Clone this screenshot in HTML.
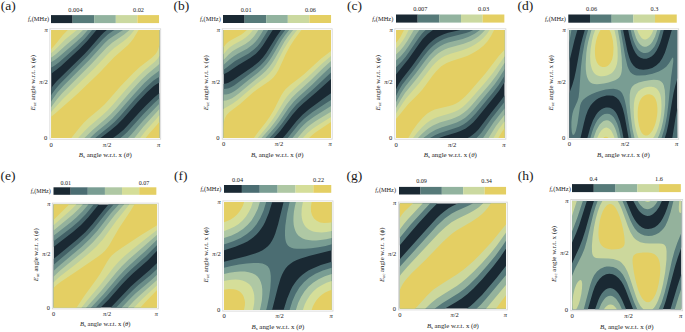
<!DOCTYPE html>
<html><head><meta charset="utf-8"><style>
html,body{margin:0;padding:0;background:#fff;}
svg{display:block;}
text{font-family:"Liberation Serif",serif;fill:#1a1a1a;}
</style></head><body>
<svg width="685" height="332" viewBox="0 0 685 332" xmlns="http://www.w3.org/2000/svg">
<rect width="685" height="332" fill="#fff"/>
<rect x="49.9" y="28.8" width="110.8" height="110.4" fill="none" stroke="#d4d4d4" stroke-width="0.8"/>
<clipPath id="cpa"><rect x="51.10" y="30.00" width="108.40" height="108.00"/></clipPath>
<g clip-path="url(#cpa)">
<rect x="51.10" y="30.00" width="108.40" height="108.00" fill="#1a2933"/>
<path fill-rule="evenodd" fill="#436267" d="M51.4 73.4 51.1 73.7 51.1 30.0 96.5 30.0 86.8 41.5 79.5 49.0 60.8 66.3 56.1 70.1 51.4 73.4ZM100.5 138.0 51.1 138.0 51.1 88.2 53.5 85.0 56.7 81.3 84.5 54.0 90.0 48.0 100.8 35.6 103.8 32.6 106.8 30.0 159.5 30.0 159.5 82.4 156.8 83.9 153.8 86.1 147.0 92.3 137.5 102.3 123.1 118.7 117.2 124.7 111.0 130.0 100.5 138.0ZM159.5 138.0 113.0 138.0 118.8 133.8 123.6 129.7 127.8 125.3 138.8 112.9 146.2 105.2 154.2 97.4 159.5 93.1 159.5 138.0Z"/>
<path fill-rule="evenodd" fill="#6a8d88" d="M51.4 67.4 51.1 67.6 51.1 30.0 92.1 30.0 84.5 39.0 77.1 46.3 59.4 61.9 55.1 65.2 51.4 67.4ZM95.1 138.0 51.1 138.0 51.1 95.4 51.4 94.8 54.8 89.9 59.1 84.7 87.5 56.1 102.5 39.4 107.8 34.5 113.1 30.8 114.5 30.0 159.5 30.0 159.5 76.7 156.5 78.4 153.2 80.8 146.2 87.2 134.5 99.6 119.8 116.5 114.5 121.9 109.1 126.7 95.1 138.0ZM159.5 138.0 120.5 138.0 123.8 135.3 127.1 132.2 143.5 114.1 154.0 103.3 159.5 98.3 159.5 138.0Z"/>
<path fill-rule="evenodd" fill="#94b29c" d="M51.4 62.1 51.1 62.3 51.1 30.0 87.8 30.0 82.1 36.4 76.1 42.1 58.4 57.3 54.8 60.0 51.4 62.1ZM89.8 138.0 51.1 138.0 51.1 101.7 52.8 99.1 57.4 92.6 63.8 85.6 89.5 59.7 104.5 43.2 108.8 39.3 113.5 35.9 123.1 30.0 159.5 30.0 159.5 70.6 151.5 76.4 144.3 83.0 134.2 93.9 118.2 112.3 112.1 118.7 107.1 123.2 95.8 132.6 90.0 138.0 89.8 138.0ZM159.5 138.0 127.9 138.0 131.5 134.2 143.1 120.7 159.5 103.5 159.5 138.0Z"/>
<path fill-rule="evenodd" fill="#bccfa0" d="M51.4 57.4 51.1 57.6 51.1 30.0 83.0 30.0 76.4 36.3 66.1 44.9 56.1 53.9 51.4 57.4ZM84.1 138.0 51.1 138.0 51.1 107.2 56.8 99.5 62.1 93.3 91.6 63.7 106.5 47.7 112.1 42.7 124.1 34.6 129.5 30.0 159.5 30.0 159.5 63.7 156.8 66.2 147.8 73.7 141.2 80.0 130.4 91.7 115.8 108.7 110.1 114.7 105.1 119.3 92.9 129.7 84.4 138.0 84.1 138.0ZM159.5 138.0 134.4 138.0 143.2 127.0 159.5 109.0 159.5 138.0Z"/>
<path fill-rule="evenodd" fill="#d8dc90" d="M51.1 53.3 51.1 30.0 76.9 30.0 65.4 39.3 55.1 49.7 51.1 53.3ZM78.1 138.0 51.1 138.0 51.1 112.1 62.4 99.5 93.9 68.7 109.0 52.7 114.5 47.8 123.8 41.0 127.1 38.2 130.8 34.5 134.3 30.0 159.5 30.0 159.5 55.7 157.8 58.4 154.8 61.7 144.5 70.3 137.5 77.0 126.4 89.0 112.8 104.7 107.5 110.5 102.6 115.0 88.9 126.7 84.6 131.0 78.1 138.0ZM159.5 138.0 140.1 138.0 145.5 131.0 155.2 120.2 159.5 114.9 159.5 138.0Z"/>
<path fill-rule="evenodd" fill="#e4cf63" d="M51.1 49.2 51.1 30.0 67.8 30.0 63.1 34.7 54.9 45.0 51.1 49.2ZM71.1 138.0 51.1 138.0 51.1 116.7 54.9 113.7 77.3 94.0 99.2 73.0 114.1 57.2 128.1 45.0 130.8 42.1 133.5 38.6 138.6 30.0 159.5 30.0 159.5 45.1 157.8 50.3 156.5 52.7 155.2 54.5 151.5 58.1 140.1 66.7 133.6 72.7 120.8 86.0 108.8 99.8 104.5 104.5 99.3 109.3 88.5 118.3 83.8 122.8 79.5 127.7 71.3 138.0 71.1 138.0ZM159.5 138.0 145.6 138.0 148.8 134.0 156.2 125.8 159.5 121.7 159.5 138.0Z"/>
</g>
<rect x="51" y="15.1" width="21.65" height="8" fill="#1a2933"/>
<rect x="72.6" y="15.1" width="21.65" height="8" fill="#567a79"/>
<rect x="94.2" y="15.1" width="21.65" height="8" fill="#92b39f"/>
<rect x="115.8" y="15.1" width="21.65" height="8" fill="#cbd9a0"/>
<rect x="137.4" y="15.1" width="21.65" height="8" fill="#e4cf63"/>
<text x="75.45" y="11.6" font-size="6.3" text-anchor="middle">0.004</text>
<text x="138.5" y="11.6" font-size="6.3" text-anchor="middle">0.02</text>
<text x="49.1" y="21.2" font-size="6.4" text-anchor="end"><tspan font-style="italic">f</tspan><tspan font-size="4.2" dy="1">c</tspan><tspan dy="-1">(MHz)</tspan></text>
<text x="0.85" y="10.4" font-size="13.5">(a)</text>
<text x="47.8" y="32" font-size="6.6" text-anchor="end" font-style="italic">π</text>
<text x="47.8" y="84" font-size="6.6" text-anchor="end"><tspan font-style="italic">π</tspan>/2</text>
<text x="47.3" y="140" font-size="6.6" text-anchor="end">0</text>
<text x="51.25" y="146.5" font-size="6.6" text-anchor="middle">0</text>
<text x="107.1" y="146.5" font-size="6.6" text-anchor="middle"><tspan font-style="italic">π</tspan>/2</text>
<text x="158.75" y="146.5" font-size="6.6" text-anchor="middle" font-style="italic">π</text>
<text x="105.3" y="157.2" font-size="6.9" text-anchor="middle"><tspan font-style="italic">B</tspan><tspan font-size="4.83" dy="1">s</tspan><tspan dy="-1"> angle w.r.t. x (</tspan><tspan font-style="italic">θ</tspan>)</text>
<text transform="translate(35.1,82.8) rotate(-90)" x="0" y="0" font-size="6.9" text-anchor="middle"><tspan font-style="italic">E</tspan><tspan font-size="4.83" dy="1">ac</tspan><tspan dy="-1"> angle w.r.t. x (</tspan><tspan font-style="italic">ϕ</tspan>)</text>
<rect x="222.2" y="28.8" width="110" height="110.4" fill="none" stroke="#d4d4d4" stroke-width="0.8"/>
<clipPath id="cpb"><rect x="223.40" y="30.00" width="107.60" height="108.00"/></clipPath>
<g clip-path="url(#cpb)">
<rect x="223.40" y="30.00" width="107.60" height="108.00" fill="#1a2933"/>
<path fill-rule="evenodd" fill="#436267" d="M223.7 74.3 223.4 74.5 223.4 30.0 272.7 30.0 262.7 45.8 259.4 50.1 255.9 53.7 250.1 58.1 238.4 64.9 228.1 71.9 223.7 74.3ZM273.4 138.0 223.4 138.0 223.4 83.9 226.1 83.4 228.4 82.7 233.4 80.1 252.7 66.7 258.9 61.7 262.7 57.7 266.1 53.3 276.4 36.7 281.1 30.0 331.0 30.0 331.0 79.0 316.3 92.3 303.4 103.2 298.3 108.0 292.4 114.8 280.4 130.8 275.7 136.0 273.7 138.0 273.4 138.0ZM331.0 138.0 282.9 138.0 286.9 133.3 296.4 121.2 302.5 114.7 309.3 109.0 327.0 96.0 331.0 93.2 331.0 138.0Z"/>
<path fill-rule="evenodd" fill="#6a8d88" d="M223.4 69.9 223.4 30.0 268.2 30.0 260.4 42.4 257.4 46.2 254.2 49.3 248.7 53.4 238.7 58.9 235.1 61.1 223.4 69.9ZM269.0 138.0 223.4 138.0 223.4 88.9 226.1 88.8 228.7 88.2 231.4 87.1 234.1 85.6 255.0 70.0 260.7 65.2 264.4 61.3 267.9 56.7 271.0 52.0 279.1 38.3 285.2 30.0 331.0 30.0 331.0 72.4 314.0 88.6 301.4 99.7 296.2 104.7 290.7 111.2 281.8 123.7 278.0 128.6 272.6 134.7 269.4 138.0 269.0 138.0ZM331.0 138.0 287.7 138.0 298.0 125.0 301.4 121.4 304.7 118.2 312.3 112.3 326.3 102.9 331.0 100.0 331.0 138.0Z"/>
<path fill-rule="evenodd" fill="#94b29c" d="M223.4 65.1 223.4 30.0 263.4 30.0 260.4 35.1 257.7 39.0 255.0 42.2 252.4 44.8 247.1 48.7 237.7 53.7 233.7 56.2 229.7 59.3 223.4 65.1ZM265.0 138.0 223.4 138.0 223.4 94.4 226.1 94.4 228.7 93.9 231.7 92.7 234.7 90.9 238.1 88.5 247.6 80.7 257.7 72.9 262.9 68.3 266.6 64.3 269.8 60.0 272.8 55.3 281.7 40.1 285.2 35.0 289.1 30.0 331.0 30.0 331.0 66.5 324.0 72.9 311.8 85.0 299.0 96.4 294.1 101.3 288.6 108.0 280.0 120.7 276.0 126.0 270.6 132.3 265.3 138.0 265.0 138.0ZM331.0 138.0 292.5 138.0 300.6 128.0 303.8 124.7 307.1 121.7 314.3 116.4 331.0 106.1 331.0 138.0Z"/>
<path fill-rule="evenodd" fill="#bccfa0" d="M223.4 60.1 223.4 30.0 258.4 30.0 254.3 36.0 252.0 38.6 249.8 40.7 245.4 43.9 236.1 49.0 232.4 51.3 228.4 54.7 223.4 60.1ZM261.4 138.0 223.4 138.0 223.4 100.8 226.1 100.5 229.1 99.6 232.1 98.2 235.4 96.1 239.4 93.1 250.1 83.9 261.0 75.3 265.7 71.0 269.0 67.3 271.9 63.3 274.8 58.7 284.2 42.0 288.1 36.3 293.1 30.0 331.0 30.0 331.0 61.0 323.5 67.7 310.0 81.0 296.7 92.9 291.9 97.7 286.4 104.7 278.0 117.7 274.0 123.3 269.7 128.7 261.4 138.0ZM331.0 138.0 297.5 138.0 303.7 130.7 306.7 127.8 309.7 125.2 315.7 121.1 331.0 111.8 331.0 138.0Z"/>
<path fill-rule="evenodd" fill="#d8dc90" d="M223.4 54.4 223.4 30.0 253.0 30.0 249.7 34.0 245.7 37.6 242.1 40.0 233.4 44.8 229.8 47.3 226.7 50.3 223.4 54.4ZM257.4 138.0 223.4 138.0 223.4 109.0 232.4 103.8 237.4 100.3 251.7 87.9 264.9 77.7 269.4 73.5 272.5 69.7 275.4 65.3 283.8 49.3 287.6 43.0 291.7 37.0 297.1 30.0 331.0 30.0 331.0 55.9 321.8 63.7 307.3 77.6 294.2 89.0 289.4 93.8 286.7 97.0 284.1 100.7 275.7 114.7 271.7 120.7 267.1 126.7 257.7 138.0 257.4 138.0ZM331.0 138.0 302.9 138.0 307.3 133.2 312.3 128.9 316.7 126.0 331.0 117.0 331.0 138.0Z"/>
<path fill-rule="evenodd" fill="#e4cf63" d="M223.4 47.4 223.4 30.0 246.8 30.0 244.3 32.3 241.4 34.5 231.7 39.7 228.7 41.6 226.0 44.0 223.4 47.4ZM253.7 138.0 223.6 138.0 223.4 128.6 223.7 123.1 224.7 118.7 226.4 115.3 229.5 112.0 240.1 103.9 253.0 92.6 258.0 88.8 268.7 81.6 271.5 79.3 273.8 77.0 276.1 74.0 278.5 70.0 285.8 54.0 289.7 46.7 294.0 40.0 301.4 30.0 331.0 30.0 331.0 50.9 320.9 58.7 304.3 73.9 299.7 77.7 290.4 84.7 285.7 89.1 283.4 92.0 281.3 95.3 273.8 110.0 269.6 117.0 265.7 122.5 258.0 132.3 253.9 138.0 253.7 138.0ZM331.0 138.0 309.0 138.0 312.0 135.2 315.3 132.6 331.0 122.1 331.0 138.0Z"/>
</g>
<rect x="223" y="15" width="21.65" height="8" fill="#1a2933"/>
<rect x="244.6" y="15" width="21.65" height="8" fill="#567a79"/>
<rect x="266.2" y="15" width="21.65" height="8" fill="#92b39f"/>
<rect x="287.8" y="15" width="21.65" height="8" fill="#cbd9a0"/>
<rect x="309.4" y="15" width="21.65" height="8" fill="#e4cf63"/>
<text x="246.1" y="11.6" font-size="6.25" text-anchor="middle">0.01</text>
<text x="310.45" y="11.6" font-size="6.25" text-anchor="middle">0.06</text>
<text x="220.8" y="21.2" font-size="6.35" text-anchor="end"><tspan font-style="italic">f</tspan><tspan font-size="4.17" dy="1">c</tspan><tspan dy="-1">(MHz)</tspan></text>
<text x="173.6" y="10.4" font-size="13.5">(b)</text>
<text x="220.12" y="31.99" font-size="6.55" text-anchor="end" font-style="italic">π</text>
<text x="220.12" y="84" font-size="6.55" text-anchor="end"><tspan font-style="italic">π</tspan>/2</text>
<text x="219.63" y="139.99" font-size="6.55" text-anchor="end">0</text>
<text x="223.55" y="146.44" font-size="6.55" text-anchor="middle">0</text>
<text x="278.99" y="146.44" font-size="6.55" text-anchor="middle"><tspan font-style="italic">π</tspan>/2</text>
<text x="330.26" y="146.44" font-size="6.55" text-anchor="middle" font-style="italic">π</text>
<text x="277.2" y="157.06" font-size="6.85" text-anchor="middle"><tspan font-style="italic">B</tspan><tspan font-size="4.79" dy="0.99">s</tspan><tspan dy="-0.99"> angle w.r.t. x (</tspan><tspan font-style="italic">θ</tspan>)</text>
<text transform="translate(207.52,82.81) rotate(-90)" x="0" y="0" font-size="6.85" text-anchor="middle"><tspan font-style="italic">E</tspan><tspan font-size="4.79" dy="0.99">ac</tspan><tspan dy="-0.99"> angle w.r.t. x (</tspan><tspan font-style="italic">ϕ</tspan>)</text>
<rect x="394.8" y="28.8" width="111.1" height="110.4" fill="none" stroke="#d4d4d4" stroke-width="0.8"/>
<clipPath id="cpc"><rect x="396.00" y="30.00" width="108.70" height="108.00"/></clipPath>
<g clip-path="url(#cpc)">
<rect x="396.00" y="30.00" width="108.70" height="108.00" fill="#1a2933"/>
<path fill-rule="evenodd" fill="#436267" d="M396.0 74.4 396.0 30.0 432.9 30.0 427.6 34.0 422.7 39.1 419.0 44.0 408.3 59.3 396.0 74.4ZM439.0 138.0 396.0 138.0 396.0 89.2 399.0 83.5 402.3 78.7 412.0 66.3 422.0 52.3 426.1 47.0 429.3 43.5 432.7 40.6 436.0 38.1 439.7 36.0 443.7 34.3 448.0 32.8 460.4 30.0 504.7 30.0 504.7 81.9 503.2 84.3 499.1 90.7 494.4 96.8 476.7 118.5 473.4 122.2 470.0 125.3 465.7 128.4 460.5 131.0 455.7 132.7 444.7 135.9 439.0 138.0ZM504.7 138.0 467.6 138.0 470.4 136.5 473.0 134.6 475.7 132.2 478.4 129.4 490.4 113.7 500.3 101.3 504.7 95.2 504.7 138.0Z"/>
<path fill-rule="evenodd" fill="#6a8d88" d="M396.0 67.3 396.0 30.0 425.6 30.0 422.3 33.3 419.0 37.4 409.6 51.3 405.7 56.7 401.7 61.4 396.0 67.3ZM430.0 138.0 396.0 138.0 396.0 96.0 399.0 90.0 402.3 84.6 413.7 70.0 423.7 56.2 427.7 51.2 430.7 47.9 433.7 45.2 436.7 42.9 440.0 40.9 444.0 39.0 448.3 37.5 466.0 33.1 469.7 31.7 473.2 30.0 504.7 30.0 504.7 75.4 498.7 85.0 493.0 92.5 475.7 113.5 471.2 118.3 467.0 122.0 463.4 124.5 459.0 126.7 454.6 128.3 440.0 132.9 435.3 135.0 430.0 138.0ZM504.7 138.0 476.6 138.0 481.4 132.7 491.7 118.3 504.7 101.8 504.7 138.0Z"/>
<path fill-rule="evenodd" fill="#94b29c" d="M396.0 60.6 396.0 30.0 419.4 30.0 415.9 34.7 408.7 46.0 405.0 51.2 400.7 56.3 396.0 60.6ZM423.3 138.0 396.0 138.0 396.0 102.2 400.7 93.4 405.3 86.5 415.3 74.0 425.3 60.4 429.3 55.4 434.7 50.1 437.4 48.0 440.5 46.0 444.3 44.1 448.3 42.6 462.7 38.9 468.7 36.8 474.7 33.8 480.0 30.0 504.7 30.0 504.7 69.0 499.4 77.6 494.7 84.3 490.0 90.1 473.7 109.5 469.4 114.1 465.2 117.7 461.2 120.3 456.7 122.5 452.4 124.1 441.3 127.5 435.7 129.8 430.0 133.0 423.3 138.0ZM504.7 138.0 483.1 138.0 493.7 122.3 504.7 108.3 504.7 138.0Z"/>
<path fill-rule="evenodd" fill="#bccfa0" d="M396.0 54.5 396.0 30.0 413.8 30.0 407.3 41.0 403.9 46.0 400.0 50.8 396.0 54.5ZM417.7 138.0 396.0 138.0 396.0 107.9 401.0 99.2 405.0 93.1 417.9 77.3 429.0 62.5 432.0 59.0 435.1 56.0 438.0 53.6 441.4 51.3 444.7 49.6 448.3 48.1 463.7 43.8 471.0 40.9 475.0 38.7 478.7 36.2 482.0 33.3 485.1 30.0 504.7 30.0 504.7 62.7 496.7 74.9 490.7 83.0 471.7 105.2 467.4 109.7 463.7 112.8 459.7 115.5 455.4 117.6 451.0 119.2 439.7 122.6 433.0 125.6 429.3 127.8 426.0 130.3 422.0 133.8 417.9 138.0 417.7 138.0ZM504.7 138.0 488.5 138.0 495.8 126.3 504.7 114.7 504.7 138.0Z"/>
<path fill-rule="evenodd" fill="#d8dc90" d="M396.0 48.6 396.0 30.0 408.7 30.0 405.2 36.7 402.3 41.3 399.3 45.3 396.0 48.6ZM412.7 138.0 396.0 138.0 396.0 113.5 402.7 103.2 406.0 98.6 419.6 82.7 432.2 66.3 435.3 62.9 438.3 60.2 441.3 58.0 444.7 56.1 450.5 53.7 461.7 50.4 466.4 48.8 471.0 46.7 475.4 44.3 479.7 41.2 483.4 38.0 486.7 34.2 489.7 30.0 504.7 30.0 504.7 56.3 493.0 72.8 486.0 81.5 469.7 100.3 466.0 104.0 462.4 107.2 458.4 109.9 454.0 112.0 449.7 113.5 437.7 116.9 434.0 118.5 430.7 120.3 426.7 123.1 422.3 127.0 417.3 132.4 413.0 138.0 412.7 138.0ZM504.7 138.0 493.5 138.0 498.4 129.7 504.7 121.2 504.7 138.0Z"/>
<path fill-rule="evenodd" fill="#e4cf63" d="M396.0 42.8 396.0 30.0 404.0 30.0 400.2 37.3 398.1 40.3 396.0 42.8ZM408.3 138.0 396.0 138.0 396.0 118.9 399.2 115.3 408.3 103.9 418.6 93.7 422.2 89.7 425.6 85.3 432.7 75.5 436.0 71.4 441.0 66.6 443.7 64.7 446.7 63.0 451.7 60.9 462.7 57.5 467.7 55.7 473.0 53.1 478.4 49.8 483.4 45.8 487.4 41.4 490.9 36.3 494.1 30.0 504.7 30.0 504.7 49.6 498.6 56.3 485.4 73.5 469.4 92.0 465.4 96.3 462.0 99.3 459.0 101.7 455.6 103.7 452.7 105.0 449.3 106.1 438.7 108.5 434.7 109.6 431.0 111.2 427.3 113.5 422.7 117.7 417.3 123.9 412.3 131.0 408.3 138.0ZM504.7 138.0 498.4 138.0 501.3 133.0 504.7 128.1 504.7 138.0Z"/>
</g>
<rect x="396" y="14.5" width="21.71" height="8.1" fill="#1a2933"/>
<rect x="417.66" y="14.5" width="21.71" height="8.1" fill="#567a79"/>
<rect x="439.32" y="14.5" width="21.71" height="8.1" fill="#92b39f"/>
<rect x="460.98" y="14.5" width="21.71" height="8.1" fill="#cbd9a0"/>
<rect x="482.64" y="14.5" width="21.71" height="8.1" fill="#e4cf63"/>
<text x="420.3" y="11.1" font-size="6.32" text-anchor="middle">0.007</text>
<text x="483.6" y="11.1" font-size="6.32" text-anchor="middle">0.03</text>
<text x="393.3" y="20.8" font-size="6.42" text-anchor="end"><tspan font-style="italic">f</tspan><tspan font-size="4.21" dy="1">c</tspan><tspan dy="-1">(MHz)</tspan></text>
<text x="346.9" y="10.4" font-size="13.5">(c)</text>
<text x="392.69" y="32.01" font-size="6.62" text-anchor="end" font-style="italic">π</text>
<text x="392.69" y="84" font-size="6.62" text-anchor="end"><tspan font-style="italic">π</tspan>/2</text>
<text x="392.19" y="140.01" font-size="6.62" text-anchor="end">0</text>
<text x="396.15" y="146.52" font-size="6.62" text-anchor="middle">0</text>
<text x="452.15" y="146.52" font-size="6.62" text-anchor="middle"><tspan font-style="italic">π</tspan>/2</text>
<text x="503.95" y="146.52" font-size="6.62" text-anchor="middle" font-style="italic">π</text>
<text x="450.35" y="157.25" font-size="6.92" text-anchor="middle"><tspan font-style="italic">B</tspan><tspan font-size="4.84" dy="1">s</tspan><tspan dy="-1"> angle w.r.t. x (</tspan><tspan font-style="italic">θ</tspan>)</text>
<text transform="translate(379.96,82.8) rotate(-90)" x="0" y="0" font-size="6.92" text-anchor="middle"><tspan font-style="italic">E</tspan><tspan font-size="4.84" dy="1">ac</tspan><tspan dy="-1"> angle w.r.t. x (</tspan><tspan font-style="italic">ϕ</tspan>)</text>
<rect x="568" y="28.8" width="110.7" height="110.4" fill="none" stroke="#d4d4d4" stroke-width="0.8"/>
<clipPath id="cpd"><rect x="569.20" y="30.00" width="108.30" height="108.00"/></clipPath>
<g clip-path="url(#cpd)">
<rect x="569.20" y="30.00" width="108.30" height="108.00" fill="#1a2933"/>
<path fill-rule="evenodd" fill="#4b6d72" d="M569.2 62.3 569.2 30.0 577.4 30.0 574.5 40.0 569.2 62.3ZM664.8 138.0 628.6 138.0 624.4 114.7 622.7 108.3 621.0 103.7 618.9 100.0 616.2 97.4 614.5 96.4 612.9 95.8 609.2 95.4 606.5 95.6 603.9 96.2 601.2 97.1 598.5 98.3 596.2 99.8 594.2 101.4 592.2 103.4 590.4 105.7 587.9 110.3 585.8 116.0 584.0 122.7 580.5 138.0 569.2 138.0 569.2 93.6 572.4 84.7 574.4 77.7 576.0 70.3 580.4 46.3 582.5 38.0 584.8 30.0 623.1 30.0 627.4 51.3 629.2 57.5 631.0 62.0 633.2 65.3 635.8 67.8 639.2 69.3 643.2 69.8 647.8 69.3 652.2 67.9 656.2 65.6 659.5 62.5 662.3 58.3 664.9 52.7 666.7 47.3 671.8 30.0 677.5 30.0 677.5 78.1 675.2 86.1 673.6 92.7 672.2 100.4 668.2 125.0 666.6 132.3 664.8 138.0ZM646.5 58.7 643.5 58.7 640.5 57.8 637.8 55.9 635.5 53.0 633.4 49.0 631.5 44.0 629.8 38.0 628.1 30.0 663.8 30.0 661.9 37.3 660.2 42.7 658.4 47.0 656.5 50.7 654.2 54.0 651.8 56.2 649.2 57.8 646.5 58.7ZM623.2 138.0 587.4 138.0 590.2 127.7 592.9 120.4 595.9 115.0 597.5 112.8 599.5 110.8 601.5 109.3 603.5 108.3 605.9 107.6 607.9 107.5 609.9 107.8 611.5 108.5 613.2 109.6 614.9 111.3 616.2 113.1 617.5 115.5 619.9 121.5 622.2 131.0 623.5 138.0 623.2 138.0ZM677.5 138.0 672.3 138.0 675.7 116.7 677.5 107.8 677.5 138.0Z"/>
<path fill-rule="evenodd" fill="#799d93" d="M569.2 42.7 569.2 30.0 571.4 30.0 569.2 42.7ZM661.2 138.0 631.4 138.0 629.7 129.0 626.0 106.0 624.8 100.5 623.7 96.7 622.0 93.0 619.9 90.7 617.2 89.4 613.5 88.8 609.9 89.0 605.5 89.6 600.9 90.8 596.2 92.3 591.9 94.0 588.1 96.0 585.2 98.0 582.9 100.0 581.1 102.7 580.1 105.7 577.5 123.4 575.9 130.8 575.2 132.6 574.2 134.5 573.2 135.0 572.5 134.4 571.8 132.0 571.4 127.3 571.4 122.0 571.9 117.0 572.5 113.5 573.5 110.0 577.4 101.3 578.6 97.3 579.3 91.0 580.9 67.7 582.3 55.7 584.7 42.3 586.3 36.0 588.1 30.0 620.6 30.0 625.3 57.0 627.4 66.0 628.7 69.3 630.2 72.0 632.2 73.8 634.5 75.0 636.5 75.4 639.2 75.6 645.2 75.2 652.5 73.7 658.8 71.4 662.8 69.3 666.2 66.7 669.0 63.3 672.2 58.1 672.8 57.6 673.2 58.0 673.3 59.7 673.2 62.3 671.0 78.0 668.3 105.0 666.9 116.3 665.6 123.3 664.3 129.3 662.2 136.0 661.5 138.0 661.2 138.0ZM645.8 53.0 643.5 52.9 641.1 52.0 638.8 50.2 636.9 47.7 635.2 44.6 633.5 40.5 632.0 35.7 630.7 30.0 660.6 30.0 657.5 40.0 655.9 43.7 654.3 46.7 652.2 49.3 650.2 51.2 648.2 52.4 645.8 53.0ZM620.5 138.0 590.4 138.0 592.1 132.0 593.8 127.3 595.5 123.5 597.5 120.1 599.9 117.2 602.2 115.3 604.5 114.1 607.2 113.7 609.5 114.1 611.9 115.5 613.9 117.6 615.5 120.2 617.2 123.8 618.8 128.7 620.8 138.0 620.5 138.0ZM677.5 138.0 677.1 138.0 677.5 130.4 677.5 138.0Z"/>
<path fill-rule="evenodd" fill="#afc8a4" d="M599.9 84.0 596.9 84.2 594.2 84.0 592.2 83.4 590.5 82.5 589.0 81.0 587.9 79.0 587.0 76.7 586.3 73.7 585.8 69.3 585.7 64.3 586.3 53.3 587.1 47.3 588.2 41.7 591.1 31.0 591.4 30.0 617.8 30.0 620.1 42.7 621.7 57.3 622.0 67.7 621.7 71.3 621.1 74.0 620.2 76.0 618.9 77.7 617.3 79.0 615.2 80.2 612.3 81.3 608.5 82.4 603.9 83.4 599.9 84.0ZM646.2 46.7 644.2 46.7 642.5 46.2 640.5 44.8 638.9 43.0 637.4 40.7 636.0 37.7 633.6 30.0 657.2 30.0 655.0 36.7 652.4 41.7 650.9 43.7 649.5 45.0 647.8 46.1 646.2 46.7ZM657.5 138.0 634.5 138.0 632.4 128.7 630.8 116.7 629.7 103.7 629.7 94.7 630.4 90.3 631.0 88.7 631.9 87.0 633.1 85.7 634.5 84.6 638.8 82.6 643.6 81.3 649.2 80.3 653.8 79.8 657.2 79.9 659.5 80.5 661.4 81.7 662.8 83.3 663.8 85.6 664.8 90.3 665.2 96.7 665.1 104.7 664.3 113.3 663.1 121.0 661.5 128.0 659.3 134.7 657.8 138.0 657.5 138.0ZM617.9 138.0 593.5 138.0 596.3 130.3 597.9 127.4 599.5 124.8 601.2 122.9 603.2 121.3 605.2 120.5 606.9 120.3 608.5 120.6 610.2 121.4 611.9 122.9 613.4 125.0 614.8 127.7 616.0 130.7 617.2 134.7 617.9 138.0Z"/>
<path fill-rule="evenodd" fill="#d5de99" d="M604.5 76.0 602.2 76.3 600.2 76.2 598.2 75.7 596.5 75.0 595.1 74.0 593.9 72.7 592.8 71.0 591.9 68.9 591.1 66.3 590.5 63.3 590.1 56.7 590.6 49.0 591.9 41.0 593.3 35.3 595.2 30.0 614.4 30.0 616.3 38.3 617.5 48.0 617.7 56.7 617.5 60.3 617.0 63.7 616.2 66.3 615.4 68.3 614.2 70.3 612.9 71.9 611.2 73.4 609.2 74.5 606.9 75.5 604.5 76.0ZM645.8 39.4 644.5 39.4 643.5 39.2 642.2 38.4 641.2 37.5 639.0 34.3 637.1 30.0 653.4 30.0 651.8 33.7 649.8 36.7 647.8 38.6 645.8 39.4ZM653.2 138.0 638.5 138.0 637.0 134.0 635.8 129.3 634.7 123.7 634.0 117.3 633.7 110.0 633.9 103.7 634.7 98.7 636.2 94.7 638.2 91.6 641.2 89.2 644.8 87.5 648.8 86.7 651.8 86.7 654.2 87.2 656.2 88.3 657.7 89.7 659.1 91.7 660.2 94.3 660.9 97.3 661.3 101.0 661.5 106.0 661.3 111.3 660.7 116.7 659.7 122.0 658.5 126.7 656.9 131.3 654.8 135.6 653.2 138.0ZM614.2 138.0 597.2 138.0 599.2 133.6 601.5 130.3 603.9 128.3 605.2 127.8 606.5 127.6 607.9 127.9 608.9 128.4 610.2 129.4 611.2 130.6 613.3 134.7 614.5 138.0 614.2 138.0Z"/>
<path fill-rule="evenodd" fill="#e4cf63" d="M604.9 67.0 602.5 67.1 600.2 66.3 598.2 64.5 596.7 62.0 595.6 58.7 595.0 55.0 594.9 50.7 595.2 46.0 596.0 41.3 597.2 37.0 598.8 33.0 600.5 30.0 609.5 30.0 610.5 32.1 611.5 34.7 612.9 40.7 613.5 47.7 613.2 54.3 612.2 59.3 610.5 62.8 609.2 64.5 607.9 65.7 606.5 66.5 604.9 67.0ZM647.2 135.4 645.2 135.5 643.2 134.5 641.5 132.4 640.2 129.7 639.0 125.7 638.2 121.3 637.7 116.3 637.7 111.3 638.0 107.7 638.7 104.3 639.7 101.3 640.9 99.0 642.5 97.1 644.5 95.5 646.8 94.6 649.2 94.3 651.2 94.7 652.8 95.6 654.3 97.0 655.5 99.0 656.5 101.7 657.1 104.7 657.4 108.3 657.4 112.0 657.0 116.0 656.3 120.0 655.3 124.0 654.0 127.3 652.5 130.4 650.8 132.7 649.2 134.4 647.2 135.4ZM608.5 138.0 603.2 138.0 604.5 137.1 605.9 136.7 607.2 137.0 608.5 138.0Z"/>
</g>
<rect x="568.3" y="14.5" width="21.73" height="8.2" fill="#1a2933"/>
<rect x="589.98" y="14.5" width="21.73" height="8.2" fill="#567a79"/>
<rect x="611.66" y="14.5" width="21.73" height="8.2" fill="#92b39f"/>
<rect x="633.34" y="14.5" width="21.73" height="8.2" fill="#cbd9a0"/>
<rect x="655.02" y="14.5" width="21.73" height="8.2" fill="#e4cf63"/>
<text x="591.55" y="11.1" font-size="6.29" text-anchor="middle">0.06</text>
<text x="654.55" y="11.1" font-size="6.29" text-anchor="middle">0.3</text>
<text x="566" y="20.8" font-size="6.39" text-anchor="end"><tspan font-style="italic">f</tspan><tspan font-size="4.2" dy="1">c</tspan><tspan dy="-1">(MHz)</tspan></text>
<text x="517.6" y="10.4" font-size="13.5">(d)</text>
<text x="565.9" y="32" font-size="6.59" text-anchor="end" font-style="italic">π</text>
<text x="565.9" y="84" font-size="6.59" text-anchor="end"><tspan font-style="italic">π</tspan>/2</text>
<text x="565.4" y="140" font-size="6.59" text-anchor="end">0</text>
<text x="569.35" y="146.49" font-size="6.59" text-anchor="middle">0</text>
<text x="625.15" y="146.49" font-size="6.59" text-anchor="middle"><tspan font-style="italic">π</tspan>/2</text>
<text x="676.75" y="146.49" font-size="6.59" text-anchor="middle" font-style="italic">π</text>
<text x="623.35" y="157.18" font-size="6.89" text-anchor="middle"><tspan font-style="italic">B</tspan><tspan font-size="4.83" dy="1">s</tspan><tspan dy="-1"> angle w.r.t. x (</tspan><tspan font-style="italic">θ</tspan>)</text>
<text transform="translate(553.21,82.8) rotate(-90)" x="0" y="0" font-size="6.89" text-anchor="middle"><tspan font-style="italic">E</tspan><tspan font-size="4.83" dy="1">ac</tspan><tspan dy="-1"> angle w.r.t. x (</tspan><tspan font-style="italic">ϕ</tspan>)</text>
<rect x="52.3" y="203.1" width="106" height="105.8" fill="none" stroke="#d4d4d4" stroke-width="0.8"/>
<clipPath id="cpe"><rect x="53.50" y="204.30" width="103.60" height="103.40"/></clipPath>
<g clip-path="url(#cpe)">
<rect x="53.50" y="204.30" width="103.60" height="103.40" fill="#1a2933"/>
<path fill-rule="evenodd" fill="#436267" d="M53.8 246.7 53.5 247.0 53.5 204.3 98.9 204.3 88.3 217.3 81.0 225.0 73.2 231.8 53.8 246.7ZM100.1 307.7 53.5 307.7 53.5 259.0 77.2 239.5 85.5 231.9 92.4 224.3 103.6 210.3 108.7 204.3 157.1 204.3 157.1 250.8 147.4 260.7 132.8 273.6 127.4 278.7 122.1 284.3 108.7 299.4 101.1 307.0 100.4 307.7 100.1 307.7ZM157.1 307.7 110.6 307.7 130.8 286.5 136.4 281.4 149.5 270.3 157.1 263.1 157.1 307.7Z"/>
<path fill-rule="evenodd" fill="#6a8d88" d="M53.5 241.2 53.5 204.3 93.9 204.3 85.7 214.3 78.8 221.3 71.8 227.2 53.5 241.2ZM95.5 307.7 53.5 307.7 53.5 265.1 59.2 260.0 79.5 243.0 87.7 235.3 94.1 228.3 106.8 212.3 113.8 204.3 157.1 204.3 157.1 245.1 146.4 255.8 131.1 269.5 125.5 275.0 120.1 280.7 106.8 296.1 95.5 307.7ZM157.1 307.7 116.0 307.7 127.8 295.2 133.1 289.9 138.4 285.1 150.4 275.2 157.1 269.1 157.1 307.7Z"/>
<path fill-rule="evenodd" fill="#94b29c" d="M53.5 235.7 53.5 204.3 88.6 204.3 82.4 211.6 76.3 217.6 71.2 222.0 53.5 235.7ZM90.5 307.7 53.5 307.7 53.5 271.0 59.5 265.4 81.8 246.7 90.1 238.8 97.4 230.7 111.1 213.1 119.0 204.3 157.1 204.3 157.1 239.7 145.4 250.9 129.8 264.9 124.1 270.4 118.1 276.9 103.7 294.0 90.8 307.7 90.5 307.7ZM157.1 307.7 121.6 307.7 130.1 298.7 135.4 293.4 151.4 279.9 157.1 274.8 157.1 307.7Z"/>
<path fill-rule="evenodd" fill="#bccfa0" d="M53.5 230.5 53.5 204.3 82.9 204.3 78.4 209.3 73.5 214.0 53.5 230.5ZM85.8 307.7 53.5 307.7 53.5 276.7 59.5 271.1 83.8 250.9 93.0 242.3 100.1 234.3 114.4 215.6 124.3 204.3 157.1 204.3 157.1 234.7 129.0 259.3 122.0 266.0 115.8 272.9 101.3 290.7 86.1 307.7 85.8 307.7ZM157.1 307.7 127.7 307.7 133.4 301.5 138.3 296.7 157.1 280.1 157.1 307.7Z"/>
<path fill-rule="evenodd" fill="#d8dc90" d="M53.5 225.3 53.5 204.3 76.5 204.3 70.5 210.3 53.5 225.3ZM81.1 307.7 53.5 307.7 53.5 282.4 56.5 279.4 60.2 276.2 74.8 265.0 86.8 255.2 92.5 250.3 97.0 246.0 103.4 238.7 116.2 221.0 129.5 204.3 157.1 204.3 157.1 229.9 144.5 239.7 130.5 251.0 123.8 256.7 118.8 261.5 113.3 267.7 99.8 285.4 87.5 299.9 81.4 307.7 81.1 307.7ZM157.1 307.7 133.9 307.7 141.8 299.4 157.1 285.2 157.1 307.7Z"/>
<path fill-rule="evenodd" fill="#e4cf63" d="M53.5 220.0 53.5 204.3 69.4 204.3 53.5 220.0ZM76.5 307.7 53.5 307.7 53.5 288.1 57.2 284.6 61.2 281.5 76.2 271.6 97.8 256.7 101.8 253.7 104.8 250.9 107.0 248.3 108.9 245.7 119.1 228.0 130.1 211.5 134.6 204.3 157.1 204.3 157.1 225.3 140.4 235.5 120.8 248.5 115.5 252.2 112.0 255.3 109.8 257.8 107.6 261.0 100.2 273.7 96.5 279.3 84.1 296.3 76.5 307.7ZM157.1 307.7 140.2 307.7 145.9 301.4 157.1 290.1 157.1 307.7Z"/>
</g>
<rect x="53.5" y="187.3" width="17.18" height="7.5" fill="#1a2933"/>
<rect x="70.63" y="187.3" width="17.18" height="7.5" fill="#4b6d72"/>
<rect x="87.77" y="187.3" width="17.18" height="7.5" fill="#799d93"/>
<rect x="104.9" y="187.3" width="17.18" height="7.5" fill="#afc8a4"/>
<rect x="122.03" y="187.3" width="17.18" height="7.5" fill="#d5de99"/>
<rect x="139.17" y="187.3" width="17.18" height="7.5" fill="#e4cf63"/>
<text x="65.75" y="184.6" font-size="6.02" text-anchor="middle">0.01</text>
<text x="144" y="184.6" font-size="6.02" text-anchor="middle">0.07</text>
<text x="50.8" y="193" font-size="6.12" text-anchor="end"><tspan font-style="italic">f</tspan><tspan font-size="4.01" dy="1">c</tspan><tspan dy="-1">(MHz)</tspan></text>
<text x="0.4" y="180.4" font-size="13.5">(e)</text>
<text x="50.35" y="206.21" font-size="6.31" text-anchor="end" font-style="italic">π</text>
<text x="50.35" y="256" font-size="6.31" text-anchor="end"><tspan font-style="italic">π</tspan>/2</text>
<text x="49.87" y="309.61" font-size="6.31" text-anchor="end">0</text>
<text x="53.65" y="315.82" font-size="6.31" text-anchor="middle">0</text>
<text x="107.02" y="315.82" font-size="6.31" text-anchor="middle"><tspan font-style="italic">π</tspan>/2</text>
<text x="156.38" y="315.82" font-size="6.31" text-anchor="middle" font-style="italic">π</text>
<text x="105.3" y="326.05" font-size="6.59" text-anchor="middle"><tspan font-style="italic">B</tspan><tspan font-size="4.62" dy="0.96">s</tspan><tspan dy="-0.96"> angle w.r.t. x (</tspan><tspan font-style="italic">θ</tspan>)</text>
<text transform="translate(38.21,254.85) rotate(-90)" x="0" y="0" font-size="6.59" text-anchor="middle"><tspan font-style="italic">E</tspan><tspan font-size="4.62" dy="0.96">ac</tspan><tspan dy="-0.96"> angle w.r.t. x (</tspan><tspan font-style="italic">ϕ</tspan>)</text>
<rect x="222.8" y="200.9" width="110.2" height="110.2" fill="none" stroke="#d4d4d4" stroke-width="0.8"/>
<clipPath id="cpf"><rect x="224.00" y="202.10" width="107.80" height="107.80"/></clipPath>
<g clip-path="url(#cpf)">
<rect x="224.00" y="202.10" width="107.80" height="107.80" fill="#1a2933"/>
<path fill-rule="evenodd" fill="#4b6d72" d="M224.3 250.2 224.0 250.3 224.0 202.1 272.2 202.1 268.8 213.1 265.2 221.8 263.3 225.5 261.1 228.8 258.9 231.8 256.4 234.5 253.7 237.0 250.7 239.2 247.4 241.4 243.7 243.3 235.2 246.8 224.3 250.2ZM272.1 309.9 224.0 309.9 224.0 261.7 246.0 256.2 255.0 253.5 259.0 251.9 262.6 250.2 265.4 248.3 267.9 246.2 270.1 243.7 272.0 240.8 273.7 237.5 275.3 233.5 278.1 224.3 283.6 202.1 331.8 202.1 331.8 250.3 309.8 255.8 300.8 258.5 296.8 260.1 293.2 261.8 290.4 263.7 287.9 265.8 285.7 268.3 283.8 271.2 282.1 274.5 280.5 278.5 277.9 287.2 272.1 309.9ZM331.8 309.9 283.6 309.9 287.0 298.9 290.6 290.2 292.5 286.5 294.7 283.2 296.9 280.2 299.4 277.5 302.1 275.0 305.1 272.8 308.4 270.6 312.1 268.7 320.8 265.1 331.8 261.7 331.8 309.9Z"/>
<path fill-rule="evenodd" fill="#799d93" d="M224.7 244.2 224.0 244.3 224.0 202.1 266.2 202.1 263.5 210.8 260.3 218.1 256.4 224.5 252.0 229.7 246.9 234.1 240.7 238.0 233.3 241.3 224.7 244.2ZM304.8 248.8 296.8 248.8 293.8 248.4 291.4 247.8 289.4 246.8 287.9 245.5 286.7 243.8 285.9 241.8 285.3 239.1 285.0 235.5 285.0 231.1 285.3 225.8 287.0 213.8 289.6 202.1 331.8 202.1 331.8 244.3 325.5 245.9 318.5 247.2 311.4 248.2 304.8 248.8ZM266.1 309.9 224.0 309.9 224.0 267.7 231.3 265.9 239.0 264.5 246.7 263.5 253.4 263.0 258.4 263.1 262.4 263.6 265.4 264.7 267.7 266.3 269.4 268.8 270.3 271.9 270.8 275.9 270.8 280.9 270.3 288.2 269.2 296.2 267.4 305.2 266.2 309.9 266.1 309.9ZM331.8 309.9 289.6 309.9 292.3 301.2 295.5 293.9 299.4 287.5 303.9 282.2 309.1 277.7 315.4 273.8 322.9 270.5 331.8 267.7 331.8 309.9Z"/>
<path fill-rule="evenodd" fill="#afc8a4" d="M224.7 237.8 224.0 238.0 224.0 202.1 259.9 202.1 257.7 208.9 254.8 215.1 251.5 220.5 247.5 225.1 243.0 229.1 237.7 232.6 231.6 235.5 224.7 237.8ZM320.5 240.1 316.1 240.5 312.1 240.4 308.4 240.1 305.4 239.4 302.7 238.5 300.3 237.1 298.3 235.5 296.7 233.5 295.4 231.1 294.4 228.1 293.7 224.8 293.4 220.8 293.5 216.5 293.9 211.8 294.8 206.8 295.9 202.1 331.8 202.1 331.8 238.0 326.1 239.3 320.5 240.1ZM259.7 309.9 224.0 309.9 224.0 274.0 229.3 272.7 234.7 271.9 240.0 271.5 244.7 271.6 248.7 272.2 252.3 273.2 255.0 274.5 257.5 276.5 259.4 278.9 260.8 281.9 261.8 285.5 262.3 289.5 262.3 294.5 261.9 300.2 260.7 306.6 259.9 309.9 259.7 309.9ZM331.8 309.9 295.9 309.9 298.1 303.1 301.0 296.9 304.4 291.4 308.4 286.7 313.1 282.7 318.5 279.2 324.8 276.3 331.8 274.0 331.8 309.9Z"/>
<path fill-rule="evenodd" fill="#d5de99" d="M224.3 230.9 224.0 231.0 224.0 202.1 252.9 202.1 251.1 207.4 248.8 212.1 246.0 216.5 242.6 220.5 238.7 223.9 234.3 226.7 229.4 229.1 224.3 230.9ZM321.5 232.5 315.8 232.1 313.1 231.4 310.8 230.6 308.8 229.5 306.9 228.1 305.4 226.6 304.2 224.8 303.2 222.8 302.4 220.5 301.8 217.8 301.5 214.8 301.7 208.4 302.9 202.1 331.8 202.1 331.8 231.0 326.5 232.1 321.5 232.5ZM252.7 309.9 224.0 309.9 224.0 281.0 227.7 280.2 231.7 279.7 235.3 279.5 239.0 279.8 242.4 280.5 245.0 281.4 247.6 282.9 249.6 284.5 251.4 286.8 252.6 289.2 253.6 292.2 254.2 295.2 254.4 298.9 254.2 302.9 253.5 307.2 252.9 309.9 252.7 309.9ZM331.8 309.9 302.9 309.9 304.7 304.6 307.0 299.9 309.8 295.5 313.2 291.5 317.1 288.1 321.6 285.2 326.5 282.8 331.8 281.0 331.8 309.9Z"/>
<path fill-rule="evenodd" fill="#e4cf63" d="M224.0 222.2 224.0 202.1 244.1 202.1 243.0 205.4 241.3 208.8 239.4 211.8 236.8 214.8 234.0 217.2 230.7 219.4 227.3 221.1 224.0 222.2ZM328.8 222.8 324.1 223.0 320.1 222.4 316.7 220.8 314.0 218.5 312.1 215.3 311.0 211.4 310.9 206.8 311.7 202.1 331.8 202.1 331.8 222.2 328.8 222.8ZM244.0 309.9 224.0 309.9 224.0 289.8 229.0 289.0 233.8 289.2 236.0 289.8 237.9 290.5 239.7 291.6 241.2 292.9 242.5 294.5 243.5 296.2 244.7 300.2 245.0 302.6 244.9 305.2 244.0 309.9ZM331.8 309.9 311.7 309.9 312.8 306.6 314.5 303.2 316.4 300.2 319.0 297.2 321.8 294.8 325.1 292.6 328.5 290.9 331.8 289.8 331.8 309.9Z"/>
</g>
<rect x="224" y="185" width="17.92" height="7.8" fill="#1a2933"/>
<rect x="241.87" y="185" width="17.92" height="7.8" fill="#4b6d72"/>
<rect x="259.73" y="185" width="17.92" height="7.8" fill="#799d93"/>
<rect x="277.6" y="185" width="17.92" height="7.8" fill="#afc8a4"/>
<rect x="295.47" y="185" width="17.92" height="7.8" fill="#d5de99"/>
<rect x="313.33" y="185" width="17.92" height="7.8" fill="#e4cf63"/>
<text x="237.55" y="181.6" font-size="6.27" text-anchor="middle">0.04</text>
<text x="318.6" y="181.6" font-size="6.27" text-anchor="middle">0.22</text>
<text x="221.4" y="191" font-size="6.36" text-anchor="end"><tspan font-style="italic">f</tspan><tspan font-size="4.18" dy="1">c</tspan><tspan dy="-1">(MHz)</tspan></text>
<text x="174.1" y="180.4" font-size="13.5">(f)</text>
<text x="220.72" y="204.09" font-size="6.56" text-anchor="end" font-style="italic">π</text>
<text x="220.72" y="256" font-size="6.56" text-anchor="end"><tspan font-style="italic">π</tspan>/2</text>
<text x="220.22" y="311.89" font-size="6.56" text-anchor="end">0</text>
<text x="224.15" y="318.35" font-size="6.56" text-anchor="middle">0</text>
<text x="279.69" y="318.35" font-size="6.56" text-anchor="middle"><tspan font-style="italic">π</tspan>/2</text>
<text x="331.05" y="318.35" font-size="6.56" text-anchor="middle" font-style="italic">π</text>
<text x="277.9" y="328.99" font-size="6.86" text-anchor="middle"><tspan font-style="italic">B</tspan><tspan font-size="4.8" dy="0.99">s</tspan><tspan dy="-0.99"> angle w.r.t. x (</tspan><tspan font-style="italic">θ</tspan>)</text>
<text transform="translate(208.09,254.81) rotate(-90)" x="0" y="0" font-size="6.86" text-anchor="middle"><tspan font-style="italic">E</tspan><tspan font-size="4.8" dy="0.99">ac</tspan><tspan dy="-0.99"> angle w.r.t. x (</tspan><tspan font-style="italic">ϕ</tspan>)</text>
<rect x="398.4" y="202.1" width="108.9" height="107.8" fill="none" stroke="#d4d4d4" stroke-width="0.8"/>
<clipPath id="cpg"><rect x="399.60" y="203.30" width="106.50" height="105.40"/></clipPath>
<g clip-path="url(#cpg)">
<rect x="399.60" y="203.30" width="106.50" height="105.40" fill="#1a2933"/>
<path fill-rule="evenodd" fill="#56797a" d="M399.6 245.4 399.6 203.3 437.4 203.3 430.7 210.0 418.3 223.6 409.9 233.2 399.6 245.4ZM444.5 308.7 399.6 308.7 399.6 259.4 425.9 229.9 436.6 218.3 440.8 214.3 444.5 211.2 448.5 208.3 452.5 206.0 458.2 203.3 506.1 203.3 506.1 248.4 500.4 256.9 493.1 266.5 482.5 278.9 473.5 288.5 467.5 293.9 461.7 298.4 455.8 302.2 444.5 308.7ZM506.1 308.7 466.6 308.7 470.5 305.9 474.1 302.8 482.0 295.0 496.5 278.0 506.1 265.7 506.1 308.7Z"/>
<path fill-rule="evenodd" fill="#94b29c" d="M399.6 238.1 399.6 203.3 430.2 203.3 410.9 224.3 399.6 238.1ZM434.2 308.7 399.6 308.7 399.6 267.1 421.6 242.7 437.2 225.6 444.7 218.6 448.2 216.0 451.8 213.6 456.5 211.1 467.8 206.1 473.3 203.3 506.1 203.3 506.1 240.4 502.1 246.6 495.4 255.7 487.1 265.8 477.5 276.5 469.2 284.8 464.2 289.1 458.8 293.0 442.2 303.2 434.5 308.7 434.2 308.7ZM506.1 308.7 476.4 308.7 481.0 304.4 486.1 298.8 506.1 275.0 506.1 308.7Z"/>
<path fill-rule="evenodd" fill="#ccd89c" d="M399.6 229.8 399.6 203.3 422.8 203.3 408.1 219.0 403.9 224.0 399.6 229.8ZM425.2 308.7 399.6 308.7 399.6 276.2 401.2 274.0 407.9 266.2 438.5 233.6 445.5 227.0 451.5 222.3 457.2 219.0 468.5 213.6 473.5 210.8 478.5 207.4 483.2 203.3 506.1 203.3 506.1 232.5 496.8 245.6 489.8 254.2 481.8 263.2 473.8 271.6 466.8 278.1 461.8 282.3 456.8 285.9 441.9 295.2 436.5 298.8 431.2 303.1 425.2 308.7ZM506.1 308.7 486.0 308.7 506.1 284.8 506.1 308.7Z"/>
<path fill-rule="evenodd" fill="#e4cf63" d="M399.6 218.1 399.6 203.3 413.0 203.3 404.7 211.3 402.0 214.6 399.6 218.1ZM414.9 308.7 399.6 308.7 399.6 290.7 400.9 287.4 402.6 284.2 404.6 281.2 407.3 277.9 411.6 273.3 425.6 259.7 442.5 242.2 448.4 236.7 452.5 233.2 456.8 230.2 471.8 221.6 478.1 217.3 481.5 214.5 484.8 211.2 487.8 207.7 491.0 203.3 506.1 203.3 506.1 224.3 491.5 242.2 479.8 254.8 474.1 260.4 468.5 265.6 462.8 270.3 457.2 274.3 440.2 284.9 433.5 289.6 427.2 295.4 417.3 306.4 414.9 308.7ZM506.1 308.7 496.0 308.7 501.6 301.0 506.1 295.3 506.1 308.7Z"/>
</g>
<rect x="399" y="186.9" width="21.45" height="7.6" fill="#1a2933"/>
<rect x="420.4" y="186.9" width="21.45" height="7.6" fill="#567a79"/>
<rect x="441.8" y="186.9" width="21.45" height="7.6" fill="#92b39f"/>
<rect x="463.2" y="186.9" width="21.45" height="7.6" fill="#cbd9a0"/>
<rect x="484.6" y="186.9" width="21.45" height="7.6" fill="#e4cf63"/>
<text x="421.55" y="182.6" font-size="6.19" text-anchor="middle">0.09</text>
<text x="486.55" y="182.6" font-size="6.19" text-anchor="middle">0.34</text>
<text x="396" y="191.6" font-size="6.29" text-anchor="end"><tspan font-style="italic">f</tspan><tspan font-size="4.13" dy="1">c</tspan><tspan dy="-1">(MHz)</tspan></text>
<text x="346.6" y="180.4" font-size="13.5">(g)</text>
<text x="396.36" y="205.26" font-size="6.48" text-anchor="end" font-style="italic">π</text>
<text x="396.36" y="256" font-size="6.48" text-anchor="end"><tspan font-style="italic">π</tspan>/2</text>
<text x="395.87" y="310.66" font-size="6.48" text-anchor="end">0</text>
<text x="399.75" y="317.05" font-size="6.48" text-anchor="middle">0</text>
<text x="454.62" y="317.05" font-size="6.48" text-anchor="middle"><tspan font-style="italic">π</tspan>/2</text>
<text x="505.36" y="317.05" font-size="6.48" text-anchor="middle" font-style="italic">π</text>
<text x="452.85" y="327.56" font-size="6.78" text-anchor="middle"><tspan font-style="italic">B</tspan><tspan font-size="4.75" dy="0.98">s</tspan><tspan dy="-0.98"> angle w.r.t. x (</tspan><tspan font-style="italic">θ</tspan>)</text>
<text transform="translate(383.88,254.82) rotate(-90)" x="0" y="0" font-size="6.78" text-anchor="middle"><tspan font-style="italic">E</tspan><tspan font-size="4.75" dy="0.98">ac</tspan><tspan dy="-0.98"> angle w.r.t. x (</tspan><tspan font-style="italic">ϕ</tspan>)</text>
<rect x="570.8" y="199.5" width="111.9" height="111.3" fill="none" stroke="#d4d4d4" stroke-width="0.8"/>
<clipPath id="cph"><rect x="572.00" y="200.70" width="109.50" height="108.90"/></clipPath>
<g clip-path="url(#cph)">
<rect x="572.00" y="200.70" width="109.50" height="108.90" fill="#1a2933"/>
<path fill-rule="evenodd" fill="#56797a" d="M572.0 242.8 572.0 200.7 586.9 200.7 579.3 224.7 576.2 233.0 572.0 242.8ZM662.5 309.6 633.2 309.6 625.7 290.0 623.6 285.3 621.4 281.6 618.7 278.2 615.7 275.7 612.7 274.3 609.4 273.8 606.1 274.3 602.7 276.0 599.7 278.7 597.1 282.3 594.9 286.6 592.9 291.9 587.8 309.6 572.0 309.6 572.0 263.4 579.2 247.7 582.5 239.3 585.4 230.3 591.2 209.4 594.0 200.7 626.1 200.7 632.1 214.9 634.4 219.3 636.8 222.8 639.4 225.6 642.1 227.5 645.1 228.7 648.1 229.1 651.5 228.6 654.8 227.2 657.8 225.0 660.5 222.0 662.8 218.3 665.0 213.7 667.2 208.0 669.4 200.7 681.5 200.7 681.5 247.0 677.8 257.6 675.1 266.3 666.0 300.3 663.4 307.9 662.8 309.6 662.5 309.6ZM649.8 215.7 647.4 216.0 645.4 215.6 643.1 214.6 641.1 213.1 639.1 210.9 637.1 208.1 633.2 200.7 662.0 200.7 659.2 206.7 656.3 211.0 653.1 214.1 651.5 215.1 649.8 215.7ZM681.5 309.6 670.4 309.6 677.2 286.9 681.5 273.7 681.5 309.6ZM625.7 309.6 595.0 309.6 598.4 300.1 600.0 296.6 601.8 293.6 603.7 291.3 605.7 289.6 607.7 288.6 610.1 288.1 612.4 288.5 614.4 289.6 616.4 291.2 618.4 293.6 620.4 296.7 622.4 300.7 626.1 309.6 625.7 309.6Z"/>
<path fill-rule="evenodd" fill="#94b29c" d="M572.0 231.7 572.0 200.7 582.9 200.7 577.3 217.7 572.0 231.7ZM658.5 309.6 637.4 309.6 634.1 302.3 626.9 282.6 624.7 278.0 622.8 274.6 620.1 271.2 616.7 268.6 613.1 267.0 609.1 266.5 606.7 266.6 604.4 267.1 600.4 268.8 597.0 271.4 594.1 275.3 592.2 279.3 590.2 285.0 583.7 309.6 572.0 309.6 572.0 276.1 575.0 268.8 581.8 255.3 584.5 248.7 587.1 239.7 593.4 213.7 595.5 206.7 597.7 200.7 622.4 200.7 630.4 220.6 632.8 225.3 634.9 228.7 637.8 231.9 640.8 234.1 644.4 235.5 648.4 236.0 652.1 235.7 655.8 234.5 659.1 232.7 662.1 230.1 663.9 228.0 665.4 225.7 668.0 220.0 670.5 212.4 673.5 200.7 681.5 200.7 681.5 232.5 677.3 242.7 674.4 251.3 671.9 260.6 667.0 283.3 664.5 293.3 661.5 302.9 658.5 309.6ZM649.1 209.1 647.4 209.2 646.1 209.1 644.4 208.5 643.1 207.7 640.1 204.8 637.4 200.7 657.8 200.7 655.8 203.9 653.7 206.4 651.5 208.1 649.1 209.1ZM681.5 309.6 674.7 309.6 678.5 296.9 681.5 287.9 681.5 309.6ZM622.1 309.6 598.8 309.6 601.4 303.6 602.8 301.3 604.4 299.1 605.8 297.6 607.4 296.5 608.7 296.0 610.4 295.8 612.1 296.1 613.4 296.7 615.1 297.9 616.4 299.3 619.4 303.7 622.1 309.6Z"/>
<path fill-rule="evenodd" fill="#ccd89c" d="M572.0 215.9 572.0 200.7 576.9 200.7 572.0 215.9ZM652.1 309.6 643.6 309.6 642.1 308.1 640.4 305.9 638.1 301.7 636.0 296.6 629.7 277.6 627.4 271.6 624.7 266.5 621.8 263.0 620.1 261.6 618.1 260.5 613.4 259.1 608.7 258.5 599.0 258.3 596.0 258.0 594.0 257.0 592.8 255.3 592.3 253.7 592.0 251.7 591.9 245.7 592.6 237.0 594.0 227.2 595.7 219.0 597.7 211.7 600.0 205.4 602.5 200.7 617.6 200.7 619.7 204.5 621.7 209.0 627.8 226.0 630.3 232.0 631.8 234.6 633.3 237.0 635.1 238.9 636.8 240.3 640.4 242.2 645.1 243.3 649.5 243.6 659.1 243.4 662.1 243.7 664.1 244.5 665.6 246.3 666.2 248.3 666.6 251.3 666.5 259.6 665.2 272.0 663.0 284.3 660.7 293.3 658.1 300.6 656.7 303.6 655.1 306.2 653.8 308.0 652.1 309.6ZM649.1 201.7 647.8 201.9 646.4 201.8 643.9 200.7 651.2 200.7 649.1 201.7ZM681.2 212.8 680.5 213.0 679.8 212.8 679.3 212.0 678.9 210.7 678.8 206.7 679.3 200.7 681.5 200.7 681.5 212.6 681.2 212.8ZM575.7 309.6 573.2 309.6 572.7 307.7 572.5 301.9 573.2 294.9 574.6 289.0 576.3 284.5 577.3 282.7 578.7 281.0 579.7 280.2 580.7 280.0 581.3 280.4 581.7 281.0 582.2 284.0 582.0 288.6 581.3 293.9 580.0 299.9 578.7 304.3 577.0 308.1 576.0 309.6 575.7 309.6ZM617.1 309.6 603.8 309.6 605.4 307.3 607.1 305.7 608.7 304.7 610.4 304.4 612.1 304.7 613.7 305.6 615.4 307.3 617.1 309.6ZM681.5 309.6 680.7 309.6 681.5 306.8 681.5 309.6Z"/>
<path fill-rule="evenodd" fill="#e4cf63" d="M615.7 249.3 611.7 249.4 608.4 249.0 605.7 248.2 603.4 247.1 601.7 245.6 600.4 243.7 599.4 241.2 598.7 238.1 598.4 233.0 598.8 227.3 599.7 221.3 601.1 215.7 602.9 211.0 605.0 207.4 607.1 205.1 608.2 204.4 609.4 204.0 610.7 204.0 611.7 204.3 613.7 205.6 615.7 208.1 617.7 211.8 619.7 216.7 621.4 222.3 623.1 229.3 624.3 236.0 624.6 239.7 624.7 242.7 624.4 244.7 623.7 246.3 622.7 247.3 621.0 248.3 618.7 249.0 615.7 249.3ZM648.1 302.3 646.1 301.9 644.1 300.6 642.1 298.2 640.3 294.9 638.4 290.4 636.8 285.3 635.3 279.3 633.9 272.6 632.6 263.0 632.5 259.6 632.9 257.3 633.6 255.6 634.8 254.5 636.4 253.6 639.1 252.9 643.4 252.5 647.8 252.6 651.5 253.1 654.1 254.1 656.1 255.4 657.8 257.4 659.0 260.0 659.8 263.0 660.3 268.6 660.0 275.3 658.9 282.6 657.4 289.3 655.5 294.6 653.1 298.8 650.8 301.3 649.5 302.0 648.1 302.3Z"/>
</g>
<rect x="572" y="184.1" width="21.81" height="8" fill="#1a2933"/>
<rect x="593.76" y="184.1" width="21.81" height="8" fill="#567a79"/>
<rect x="615.52" y="184.1" width="21.81" height="8" fill="#92b39f"/>
<rect x="637.28" y="184.1" width="21.81" height="8" fill="#cbd9a0"/>
<rect x="659.04" y="184.1" width="21.81" height="8" fill="#e4cf63"/>
<text x="593.55" y="181.4" font-size="6.36" text-anchor="middle">0.4</text>
<text x="659" y="181.4" font-size="6.36" text-anchor="middle">1.6</text>
<text x="570.8" y="190.8" font-size="6.46" text-anchor="end"><tspan font-style="italic">f</tspan><tspan font-size="4.24" dy="1">c</tspan><tspan dy="-1">(MHz)</tspan></text>
<text x="517.8" y="180.4" font-size="13.5">(h)</text>
<text x="568.67" y="202.72" font-size="6.67" text-anchor="end" font-style="italic">π</text>
<text x="568.67" y="255.15" font-size="6.67" text-anchor="end"><tspan font-style="italic">π</tspan>/2</text>
<text x="568.16" y="311.62" font-size="6.67" text-anchor="end">0</text>
<text x="572.15" y="318.19" font-size="6.67" text-anchor="middle">0</text>
<text x="628.57" y="318.19" font-size="6.67" text-anchor="middle"><tspan font-style="italic">π</tspan>/2</text>
<text x="680.74" y="318.19" font-size="6.67" text-anchor="middle" font-style="italic">π</text>
<text x="626.75" y="328.99" font-size="6.97" text-anchor="middle"><tspan font-style="italic">B</tspan><tspan font-size="4.88" dy="1.01">s</tspan><tspan dy="-1.01"> angle w.r.t. x (</tspan><tspan font-style="italic">θ</tspan>)</text>
<text transform="translate(555.84,253.94) rotate(-90)" x="0" y="0" font-size="6.97" text-anchor="middle"><tspan font-style="italic">E</tspan><tspan font-size="4.88" dy="1.01">ac</tspan><tspan dy="-1.01"> angle w.r.t. x (</tspan><tspan font-style="italic">ϕ</tspan>)</text>
</svg>
</body></html>
